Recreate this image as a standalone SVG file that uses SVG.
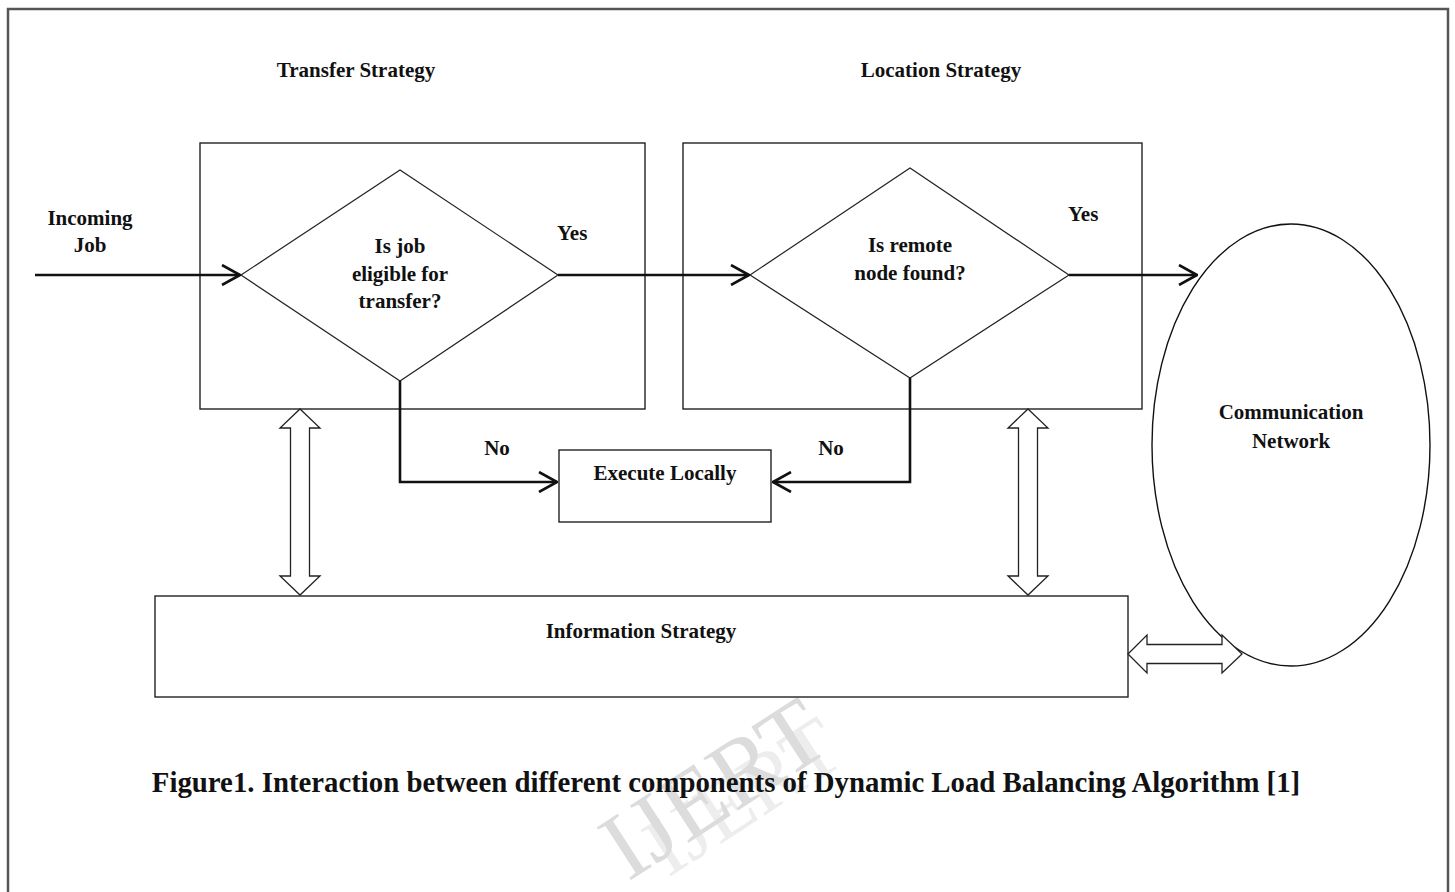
<svg xmlns="http://www.w3.org/2000/svg" width="1455" height="892" viewBox="0 0 1455 892">
  <style>
    .t { font-family: "Liberation Serif", "Times New Roman", serif; font-weight: bold; font-size: 21px; fill: #111; }
    .cap { font-size: 28.8px; }
    .box { fill: #fff; stroke: #222; stroke-width: 1.4; }
    .dia { fill: none; stroke: #222; stroke-width: 1.2; }
    .conn { fill: none; stroke: #111; stroke-width: 2.6; }
    .dbl { fill: #fff; stroke: #222; stroke-width: 1.3; }
    .wm { font-family: "Liberation Serif", serif; font-size: 96px; fill: #dcdcdc; }
  </style>
  <defs>
    <marker id="arr" markerUnits="userSpaceOnUse" viewBox="0 0 20 22" refX="19" refY="11" markerWidth="20" markerHeight="22" orient="auto">
      <path d="M1,1 L19,11 L1,21" fill="none" stroke="#111" stroke-width="2.6"/>
    </marker>
  </defs>
  <rect width="1455" height="892" fill="#fff"/>
  <path d="M8,892 V9 H1448 V892" fill="none" stroke="#555" stroke-width="2.5"/>

  <g id="watermark">
    <text class="wm" x="0" y="0" transform="translate(668,878) rotate(-33)" style="fill:#ededed;font-size:84px">IJERT</text>
    <text class="wm" x="0" y="0" transform="translate(628,882) rotate(-33)">IJERT</text>
  </g>

  <text class="t" x="356" y="77" text-anchor="middle">Transfer Strategy</text>
  <text class="t" x="941" y="77" text-anchor="middle">Location Strategy</text>

  <g id="transfer">
    <rect class="box" x="200" y="143" width="445" height="266"/>
    <polygon class="dia" points="241,275 400,170 558,275 400,381"/>
    <text class="t" x="400" y="253" text-anchor="middle">Is job</text>
    <text class="t" x="400" y="281" text-anchor="middle">eligible for</text>
    <text class="t" x="400" y="308" text-anchor="middle">transfer?</text>
  </g>

  <g id="location">
    <rect class="box" x="683" y="143" width="459" height="266"/>
    <polygon class="dia" points="750,275 910,168 1069,275 910,378"/>
    <text class="t" x="910" y="252" text-anchor="middle">Is remote</text>
    <text class="t" x="910" y="280" text-anchor="middle">node found?</text>
  </g>

  <g id="execute">
    <rect class="box" x="559" y="450" width="212" height="72"/>
    <text class="t" x="665" y="480" text-anchor="middle">Execute Locally</text>
  </g>

  <g id="information">
    <rect class="box" x="155" y="596" width="973" height="101"/>
    <text class="t" x="641" y="638" text-anchor="middle">Information Strategy</text>
  </g>

  <g id="network">
    <ellipse cx="1291" cy="445" rx="139" ry="221" fill="#fff" stroke="#111" stroke-width="1.4"/>
    <text class="t" x="1291" y="419" text-anchor="middle">Communication</text>
    <text class="t" x="1291" y="448" text-anchor="middle">Network</text>
  </g>

  <g id="connectors">
    <line class="conn" x1="35" y1="275" x2="240" y2="275" marker-end="url(#arr)"/>
    <line class="conn" x1="558" y1="275" x2="749" y2="275" marker-end="url(#arr)"/>
    <line class="conn" x1="1069" y1="275" x2="1197" y2="275" marker-end="url(#arr)"/>
    <polyline class="conn" points="400,381 400,482 557,482" marker-end="url(#arr)"/>
    <polyline class="conn" points="910,378 910,482 773,482" marker-end="url(#arr)"/>
    <polygon class="dbl" points="300,409 320,428 309.5,428 309.5,576 320,576 300,595 280,576 290.5,576 290.5,428 280,428"/>
    <polygon class="dbl" points="1028,409 1048,428 1037.5,428 1037.5,576 1048,576 1028,595 1008,576 1018.5,576 1018.5,428 1008,428"/>
    <polygon class="dbl" points="1128,654 1147,635 1147,644.5 1222,644.5 1222,635 1242,654 1222,673 1222,663.5 1147,663.5 1147,673"/>
  </g>

  <g id="labels">
    <text class="t" x="90" y="225" text-anchor="middle">Incoming</text>
    <text class="t" x="90" y="252" text-anchor="middle">Job</text>
    <text class="t" x="557" y="240">Yes</text>
    <text class="t" x="1068" y="221">Yes</text>
    <text class="t" x="497" y="455" text-anchor="middle">No</text>
    <text class="t" x="831" y="455" text-anchor="middle">No</text>
  </g>

  <text class="t cap" x="726" y="792" text-anchor="middle">Figure1. Interaction between different components of Dynamic Load Balancing Algorithm [1]</text>
</svg>
